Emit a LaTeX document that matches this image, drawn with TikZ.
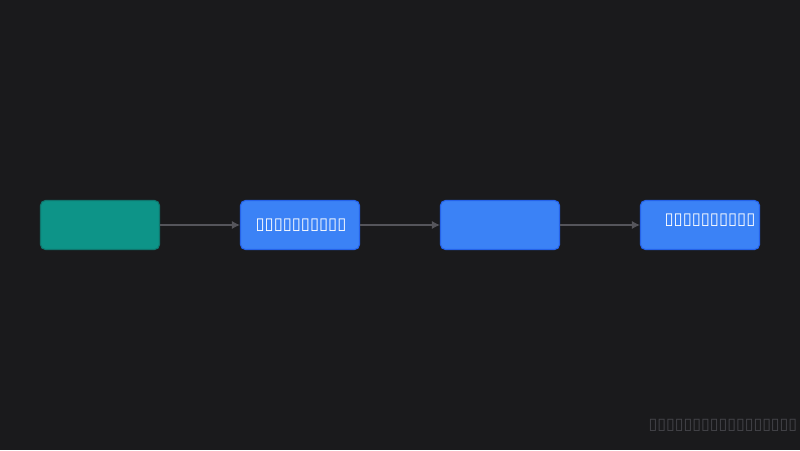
\documentclass[tikz,border=0pt]{standalone}
\usepackage{fontspec}
\usepackage{tikz}
\usetikzlibrary{arrows.meta}
\newfontfamily\tofufont{DejaVu Sans}
\definecolor{canvas}{HTML}{1A1A1C}
\definecolor{tealfill}{HTML}{0D9488}
\definecolor{tealedge}{HTML}{0F766E}
\definecolor{bluefill}{HTML}{3B82F6}
\definecolor{blueedge}{HTML}{2563EB}
\definecolor{wire}{HTML}{55555B}
\definecolor{footgray}{HTML}{46464B}

\begin{document}
\begin{tikzpicture}[x=1pt, y=-1pt]
      \fill[canvas] (0,0) rectangle (800,450);

      {\tikzstyle{every node}=[rectangle, draw, rounded corners=5pt, line width=1.1pt,
          minimum width=119pt, minimum height=49pt, inner sep=0pt]
        \node[fill=tealfill, draw=tealedge] (step1) at (100, 225) {};

        \foreach \i in {2,3,4}
        {
          \node[fill=bluefill, draw=blueedge] (step\i) at (\i*200-100, 225) {};
        }
      }

      {\tikzstyle{every node}=[text=white, inner sep=0pt,
          font=\tofufont\fontsize{16.5}{18}\selectfont]
        \node (label2) at (301, 225) {▯▯▯▯▯▯▯▯▯▯};
        \node (label4) at (710, 220) {▯▯▯▯▯▯▯▯▯▯};
      }

      \foreach \i/\j in {1/2, 2/3, 3/4}
      {
        \draw [wire, line width=1.1pt, -{Latex[length=8pt, width=8pt]}]
          (step\i) -- (step\j);
      }

      \node [anchor=east, text=footgray, inner sep=0pt,
        font=\tofufont\fontsize{15.9}{18}\selectfont] (note) at (797.5, 425)
        {▯▯▯▯▯▯▯▯▯▯▯▯▯▯▯▯▯};
    \end{tikzpicture}
\end{document}
